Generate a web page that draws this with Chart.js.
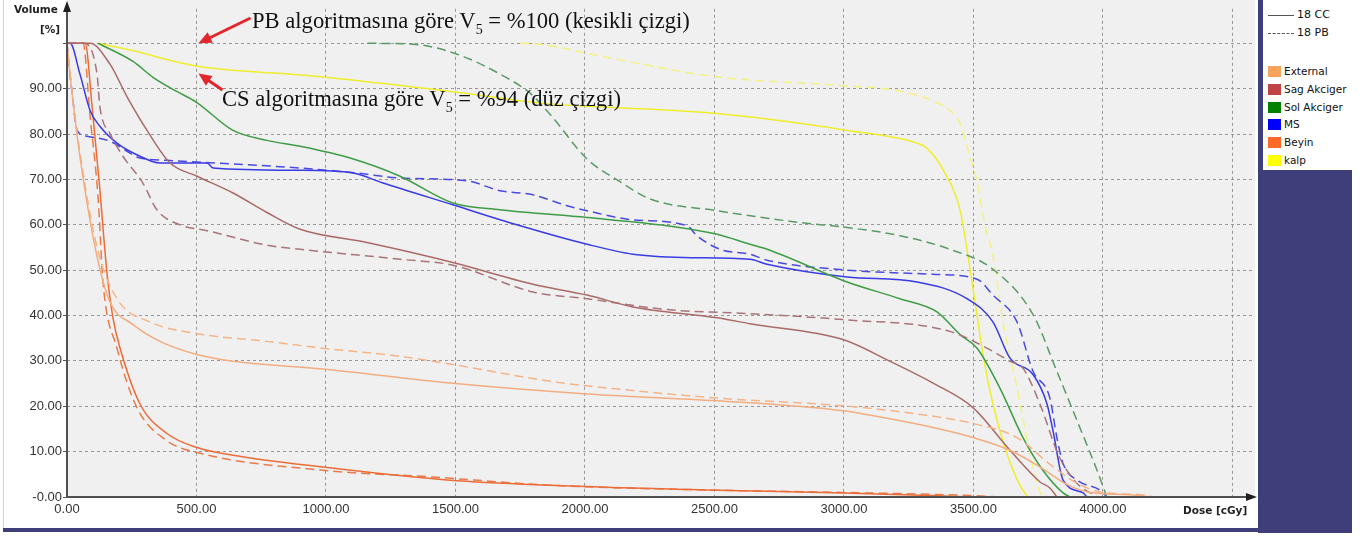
<!DOCTYPE html>
<html>
<head>
<meta charset="utf-8">
<script src="https://cdn.jsdelivr.net/npm/chart.js"></script>
<style>
  body { margin: 0; background: #fff; width: 1365px; height: 536px; overflow: hidden; position: relative; }
  #wrap { position: absolute; left: 0; top: 0; width: 1258px; height: 532px; }
  .leftline { position: absolute; left: 3px; top: 0; width: 1px; height: 528px; background: #d4d4d4; }
  .bottombar { position: absolute; left: 3px; top: 528px; width: 1260px; height: 4px; background: #403d7b; }
  .panel { position: absolute; left: 1258px; top: 0; width: 94px; height: 533px; background: #403d7b; }
  .legend { position: absolute; left: 1263px; top: 0; width: 89px; height: 170px; background: #fff;
            font-family: "DejaVu Sans", sans-serif; font-size: 10.5px; color: #111; }
  .legend .row { position: absolute; left: 0; height: 12px; line-height: 12px; white-space: nowrap; }
  .legend .sw { position: absolute; left: 5px; top: 0; width: 13px; height: 11px; }
  .legend .txt { position: absolute; left: 21px; top: -1px; }
  .legend .ln { position: absolute; left: 5px; top: 5px; width: 26px; height: 0; border-top: 1.5px solid #555; }
  .legend .ln.dash { border-top: 1.5px dashed #555; }
  .legend .lt { position: absolute; left: 34px; top: -1px; font-size: 11px; }
  .note { position: absolute; font-family: "Liberation Serif", serif; font-size: 22.6px; color: #111; white-space: nowrap; line-height: 22px; }
  .note sub { font-size: 14px; vertical-align: -6px; line-height: 0; }
  .ax { position: absolute; font-family: "DejaVu Sans", sans-serif; font-weight: bold; font-size: 10.5px; color: #222; white-space: nowrap; }
</style>
</head>
<body>
<div id="wrap"><canvas id="dvh" width="1258" height="532"></canvas></div>
<div class="leftline"></div>
<div class="bottombar"></div>
<div class="panel"></div>
<div class="legend" id="legend"></div>
<div class="ax" style="left:14px; top:3px;">Volume</div>
<div class="ax" style="left:40px; top:23px;">[%]</div>
<div class="ax" style="left:1183px; top:504px;">Dose [cGy]</div>
<div class="note" style="left:252px; top:10px;">PB algoritmasına göre V<sub>5</sub> = %100 (kesikli çizgi)</div>
<div class="note" style="left:222px; top:88px;">CS algoritmasına göre V<sub>5</sub> = %94 (düz çizgi)</div>
<script>
// DVH verileri: doz (cGy) ve hacim (%)
const externalCcDose = [0, 12, 50, 116, 166, 255, 359, 502, 641, 988, 1479, 2008, 2510, 2996, 3151, 3344, 3498, 3641, 3757, 3870, 3950, 4100, 4190];
const externalCcVol  = [100, 93, 75, 53, 43, 38, 34.3, 31.4, 29.9, 28.2, 25.1, 22.7, 21.2, 19, 17.5, 15.3, 13.1, 10.3, 6.6, 2.5, 1, 0.5, 0];
const externalPbDose = [0, 12, 50, 116, 193, 320, 502, 772, 988, 1286, 1479, 1865, 2008, 2510, 2996, 3282, 3498, 3668, 3800, 3900, 4000, 4150, 4200];
const externalPbVol  = [100, 93, 76, 55, 43.7, 38.6, 36, 34.3, 32.8, 31, 29.3, 25.5, 24.5, 21.8, 20.1, 18.3, 16.2, 13.1, 7, 3, 1, 0.5, 0];

const sagCcDose = [0, 89, 166, 232, 309, 398, 502, 641, 772, 900, 1158, 1490, 1799, 2008, 2185, 2510, 2637, 2996, 3178, 3344, 3498, 3641, 3757, 3795, 3822];
const sagCcVol  = [100, 100, 95.4, 88.2, 80.8, 73.6, 70.7, 67, 62.7, 59, 56.1, 51.7, 46.9, 44.5, 41.9, 39.5, 38.2, 34.7, 29.9, 25.1, 19.7, 10.3, 3.3, 2, 0];
const sagPbDose = [0, 62, 116, 127, 166, 216, 293, 347, 436, 541, 772, 900, 1286, 1490, 1799, 2008, 2317, 2637, 2996, 3409, 3575, 3641, 3691, 3760, 3830, 3900, 3980];
const sagPbVol  = [100, 100, 93.2, 86, 80.1, 75.1, 69.2, 63.3, 60, 58.7, 55.5, 54.6, 52.4, 51.1, 45.2, 43.7, 41.3, 40.4, 39.1, 36.5, 32.1, 29.9, 28.4, 20, 9, 3, 0];

const solCcDose = [120, 255, 332, 420, 500, 641, 772, 900, 1093, 1286, 1490, 1672, 2008, 2317, 2510, 2637, 2703, 3012, 3216, 3359, 3448, 3514, 3602, 3691, 3768, 3846, 3873];
const solCcVol  = [100, 96, 92.5, 89.5, 87, 80.8, 78.6, 77.3, 74.7, 70.7, 64.8, 63.3, 61.6, 59.8, 57.9, 55.7, 54.6, 47.4, 43.7, 40.8, 35.8, 32.8, 24, 13.1, 5.9, 0.9, 0];
const solPbDose = [1160, 1336, 1506, 1672, 1788, 1870, 2008, 2124, 2251, 2510, 2830, 3012, 3216, 3409, 3575, 3730, 3822, 3900, 3977, 4015];
const solPbVol  = [100, 99.8, 97.6, 93.2, 89, 84, 74.5, 69.9, 65.7, 63.1, 60.5, 59.4, 57.6, 54.6, 50.2, 40.2, 27.7, 16.8, 5.9, 0];

const msCcDose = [0, 12, 50, 89, 127, 193, 282, 359, 541, 564, 900, 1104, 1220, 1490, 1737, 2008, 2185, 2378, 2637, 2703, 3012, 3282, 3475, 3575, 3641, 3730, 3784, 3807, 3846, 3923, 3938];
const msCcVol  = [100, 100, 93.2, 85.2, 81.7, 78, 75.1, 73.6, 73.6, 72.5, 72, 71.4, 69.2, 64.4, 60, 55.7, 53.5, 52.8, 52.4, 51.3, 48.5, 47.4, 43.7, 38.6, 30.6, 27, 20.5, 14.6, 3.7, 0.9, 0];
const msPbDose = [0, 8, 19, 39, 77, 166, 232, 282, 386, 900, 1120, 1286, 1544, 1672, 1799, 1931, 2008, 2185, 2394, 2432, 2521, 2637, 2703, 3012, 3344, 3514, 3575, 3668, 3730, 3795, 3822, 3846, 3900, 3988, 4015];
const msPbVol  = [100, 95, 89.5, 80.8, 79.5, 78.4, 76.2, 74.7, 74.2, 72.5, 71.4, 70.3, 69.7, 67.5, 66.6, 64.2, 63.1, 61.1, 59.8, 57.6, 54.6, 53.5, 52.2, 50, 49.1, 48, 44.5, 38.6, 27.7, 21.8, 13.1, 7.4, 3.7, 1.5, 0];

const beyinCcDose = [0, 70, 97, 127, 154, 178, 205, 282, 386, 502, 641, 988, 1479, 1865, 2510, 2996, 3498];
const beyinCcVol  = [100, 100, 86, 67.7, 49.6, 39.3, 32.8, 20.5, 14, 10.9, 9.2, 6.6, 3.7, 2.6, 1.5, 0.9, 0];
const beyinPbDose = [0, 62, 89, 120, 139, 193, 270, 386, 502, 988, 1413, 1865, 2510, 3000, 3500, 3600];
const beyinPbVol  = [100, 100, 84, 66, 47.4, 32.8, 19.7, 12.4, 9.8, 5.9, 4.4, 2.6, 1.5, 1, 0.3, 0];

const kalpCcDose = [120, 243, 498, 950, 1467, 1853, 2058, 2510, 3012, 3282, 3320, 3390, 3448, 3498, 3537, 3575, 3629, 3680, 3710];
const kalpCcVol  = [100, 98.5, 95, 92.8, 89.5, 86.7, 86, 84.5, 80.8, 78, 76.9, 71.4, 63.3, 46, 31.4, 20.5, 9.6, 2.5, 0];
const kalpPbDose = [1750, 1826, 2058, 2510, 3012, 3216, 3344, 3409, 3448, 3486, 3514, 3544, 3575, 3614, 3668, 3718, 3757, 3780];
const kalpPbVol  = [100, 99.8, 97.2, 92.6, 90.6, 89.5, 87.3, 85.2, 82.3, 75, 69.5, 60, 53.3, 38.6, 24, 9.6, 1, 0];

const structures = ['External', 'Sag Akciger', 'Sol Akciger', 'MS', 'Beyin', 'kalp'];
const plans = ['18 CC', '18 PB'];
const doseTicks = [0, 500, 1000, 1500, 2000, 2500, 3000, 3500, 4000, 4500];
const volumeTicks = [0, 10, 20, 30, 40, 50, 60, 70, 80, 90, 100];

// renkler
const swatchColors = ['#f7a35c', '#c04444', '#008000', '#0000ff', '#ff6a28', '#ffff00'];
const lineColors = {
  External: ['#f2ad80', '#f4b488'],
  'Sag Akciger': ['#aa6a6a', '#a8747a'],
  'Sol Akciger': ['#3f9c46', '#5a9a68'],
  MS: ['#3a3ae6', '#4a4ae0'],
  Beyin: ['#ec6c38', '#ea7a48'],
  kalp: ['#eeee2c', '#f2f282']
};

const series = [
  ['External', 0, externalCcDose, externalCcVol], ['External', 1, externalPbDose, externalPbVol],
  ['Sag Akciger', 0, sagCcDose, sagCcVol], ['Sag Akciger', 1, sagPbDose, sagPbVol],
  ['Sol Akciger', 0, solCcDose, solCcVol], ['Sol Akciger', 1, solPbDose, solPbVol],
  ['MS', 0, msCcDose, msCcVol], ['MS', 1, msPbDose, msPbVol],
  ['Beyin', 0, beyinCcDose, beyinCcVol], ['Beyin', 1, beyinPbDose, beyinPbVol],
  ['kalp', 0, kalpCcDose, kalpCcVol], ['kalp', 1, kalpPbDose, kalpPbVol]
];

const datasets = series.map(([name, plan, dose, vol]) => ({
  label: name + ' ' + plans[plan],
  data: dose.map((d, i) => ({ x: d, y: vol[i] })),
  borderColor: lineColors[name][plan],
  borderWidth: 1.5,
  borderDash: plan === 1 ? [9, 5] : [],
  pointRadius: 0,
  cubicInterpolationMode: 'monotone',
  fill: false
}));

// legend
const legend = document.getElementById('legend');
legend.innerHTML =
  `<div class="row" style="top:10px"><div class="ln"></div><span class="lt">${plans[0]}</span></div>` +
  `<div class="row" style="top:28px"><div class="ln dash"></div><span class="lt">${plans[1]}</span></div>` +
  structures.map((s, i) =>
    `<div class="row" style="top:${66 + i * 17.8}px"><div class="sw" style="background:${swatchColors[i]}"></div><span class="txt">${s}</span></div>`
  ).join('');

function arrow(ctx, x1, y1, x2, y2, color, w, head) {
  const ang = Math.atan2(y2 - y1, x2 - x1);
  ctx.strokeStyle = color;
  ctx.fillStyle = color;
  ctx.lineWidth = w;
  ctx.beginPath();
  ctx.moveTo(x1, y1);
  ctx.lineTo(x2 - Math.cos(ang) * head * 0.8, y2 - Math.sin(ang) * head * 0.8);
  ctx.stroke();
  ctx.beginPath();
  ctx.moveTo(x2, y2);
  ctx.lineTo(x2 - head * Math.cos(ang) + head * 0.45 * Math.sin(ang), y2 - head * Math.sin(ang) - head * 0.45 * Math.cos(ang));
  ctx.lineTo(x2 - head * Math.cos(ang) - head * 0.45 * Math.sin(ang), y2 - head * Math.sin(ang) + head * 0.45 * Math.cos(ang));
  ctx.closePath();
  ctx.fill();
}

const extras = {
  id: 'extras',
  beforeDraw(chart) {
    const { ctx, chartArea: a } = chart;
    ctx.save();
    ctx.fillStyle = '#f0f0f0';
    ctx.fillRect(a.left, 0, a.right - a.left, a.bottom);
    ctx.restore();
  },
  afterDraw(chart) {
    const { ctx, chartArea: a, scales } = chart;
    ctx.save();
    // eksenler
    ctx.strokeStyle = '#505050';
    ctx.fillStyle = '#202020';
    ctx.lineWidth = 2;
    ctx.beginPath();
    ctx.moveTo(a.left, a.bottom);
    ctx.lineTo(a.left, 10);
    ctx.moveTo(a.left, a.bottom);
    ctx.lineTo(a.right - 8, a.bottom);
    ctx.stroke();
    ctx.beginPath();
    ctx.moveTo(a.left, 1);
    ctx.lineTo(a.left - 4, 12);
    ctx.lineTo(a.left + 4, 12);
    ctx.closePath();
    ctx.fill();
    ctx.beginPath();
    ctx.moveTo(a.right + 2, a.bottom);
    ctx.lineTo(a.right - 9, a.bottom - 4);
    ctx.lineTo(a.right - 9, a.bottom + 4);
    ctx.closePath();
    ctx.fill();
    // V5 oklari
    const x5 = scales.x.getPixelForValue(500) + 2;
    arrow(ctx, x5 + 52, 18, x5, scales.y.getPixelForValue(100), '#e3262b', 3, 13);
    arrow(ctx, x5 + 24, 90, x5, scales.y.getPixelForValue(94) + 3, '#e3262b', 3, 13);
    ctx.restore();
  }
};

new Chart(document.getElementById('dvh'), {
  type: 'line',
  data: { datasets },
  options: {
    responsive: false,
    animation: false,
    layout: { padding: { left: 0, right: 3, top: 4, bottom: 0 } },
    plugins: { legend: { display: false }, tooltip: { enabled: false } },
    scales: {
      x: {
        type: 'linear',
        min: 0,
        max: 4587,
        afterFit: s => { s.height = 35; },
        afterBuildTicks: s => { s.ticks = doseTicks.map(v => ({ value: v })); },
        border: { display: false, dash: [3, 3] },
        grid: { color: '#969696', lineWidth: 1, drawTicks: false },
        ticks: {
          maxRotation: 0,
          autoSkip: false,
          padding: 5,
          color: '#333',
          font: { family: 'Liberation Sans', size: 13 },
          callback: v => (v > 4000 ? '' : v.toFixed(2))
        }
      },
      y: {
        min: 0,
        max: 107.6,
        afterFit: s => { s.width = 67; },
        afterBuildTicks: s => { s.ticks = volumeTicks.map(v => ({ value: v })); },
        border: { display: false, dash: [3, 3] },
        grid: { color: '#969696', lineWidth: 1, drawTicks: true, tickLength: 4, tickColor: '#555', tickBorderDash: [] },
        ticks: {
          autoSkip: false,
          padding: 1,
          color: '#333',
          font: { family: 'Liberation Sans', size: 13 },
          callback: v => (v >= 100 ? '' : v === 0 ? '-0.00' : v.toFixed(2))
        }
      }
    }
  },
  plugins: [extras]
});
</script>
</body>
</html>
